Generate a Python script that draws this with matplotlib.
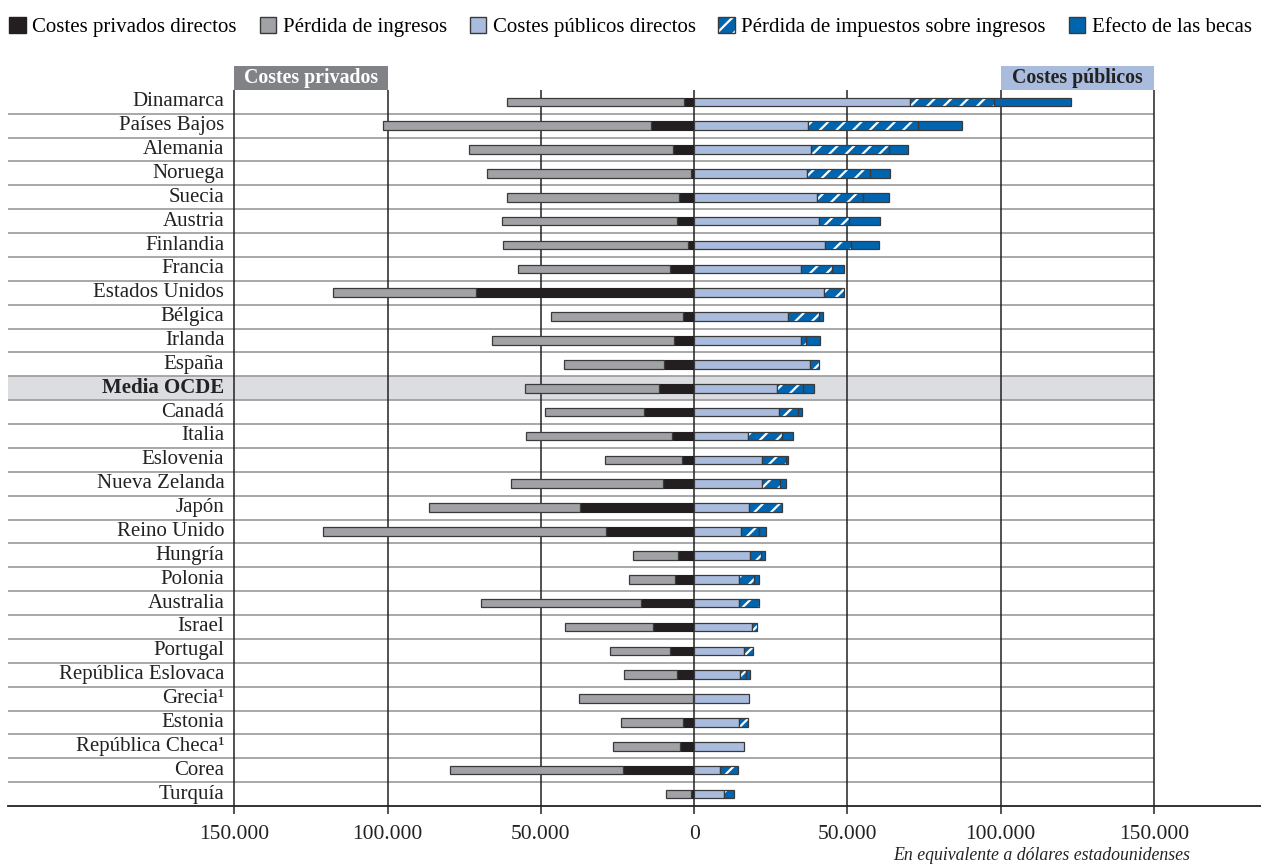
import numpy as np
import matplotlib.pyplot as plt
from matplotlib.patches import Patch, Rectangle
from matplotlib.legend_handler import HandlerTuple
from matplotlib.ticker import FuncFormatter

plt.rcParams['font.family'] = ['Liberation Serif', 'DejaVu Serif']
plt.rcParams['hatch.linewidth'] = 1.6

countries = ['Dinamarca', 'Países Bajos', 'Alemania', 'Noruega', 'Suecia', 'Austria',
             'Finlandia', 'Francia', 'Estados Unidos', 'Bélgica', 'Irlanda', 'España',
             'Media OCDE', 'Canadá', 'Italia', 'Eslovenia', 'Nueva Zelanda', 'Japón',
             'Reino Unido', 'Hungría', 'Polonia', 'Australia', 'Israel', 'Portugal',
             'República Eslovaca', 'Grecia¹', 'Estonia', 'República Checa¹', 'Corea', 'Turquía']

# private side (plotted to the left)
direct_private = [3300, 14000, 7000, 1100, 4800, 5600, 1900, 7700, 71000, 3500, 6600, 9900,
                  11300, 16200, 7200, 3800, 10300, 37300, 28600, 5100, 6200, 17400, 13300, 8000,
                  5500, 500, 3600, 4600, 23300, 1100]
lost_earnings = [57900, 87400, 66300, 66400, 56400, 57200, 60400, 49800, 46700, 43300, 59300, 32600,
                 43800, 32300, 47800, 25400, 49600, 49100, 92400, 14900, 15000, 52100, 28900, 19300,
                 17400, 37000, 20300, 21900, 56200, 8100]

# public side (plotted to the right)
direct_public = [70300, 37300, 38200, 36800, 40000, 40600, 42600, 35000, 42500, 30800, 34900, 37700,
                 26900, 27600, 17500, 22000, 22000, 18000, 15200, 18200, 14500, 14500, 18800, 16200,
                 15100, 17900, 14500, 16400, 8300, 9700]
lost_taxes = [27500, 35700, 25300, 20700, 15200, 10100, 8500, 9900, 6400, 10000, 1600, 3200,
              8500, 6200, 11300, 8000, 6000, 10800, 5900, 3500, 5000, 6700, 1700, 3000,
              1700, 0, 3000, 0, 6000, 3400]
grants = [25300, 14500, 6200, 6300, 8300, 10100, 9100, 4000, 0, 1200, 4500, 0,
          3600, 1300, 3400, 800, 1900, 0, 2500, 1400, 1800, 0, 0, 0,
          1400, 0, 0, 0, 0, 0]

ticks = [-150000, -100000, -50000, 0, 50000, 100000, 150000]

c_black = '#231f20'
c_gray = '#a1a2a6'
c_lblue = '#aabcde'
c_blue = '#0065b0'
c_edge = '#3a3a3a'

fig = plt.figure(figsize=(12.61, 8.66), dpi=100)
ax = fig.add_axes([8 / 1261, 1 - 806 / 866, 1 - 8 / 1261, (806 - 66) / 866])

px = 3.06 / 1000  # pixels per dollar
xmin = (10 - 695) / px
xmax = (1261 - 695) / px
ax.set_xlim(xmin, xmax)
ax.set_ylim(29.5, -1.5)

y = np.arange(len(countries))
dp = np.array(direct_private)
le = np.array(lost_earnings)
dpub = np.array(direct_public)
lt = np.array(lost_taxes)
gr = np.array(grants)
h = 0.36

# highlight for OECD average
i_avg = countries.index('Media OCDE')
ax.add_patch(Rectangle((xmin, i_avg - 0.5), 150000 - xmin, 1, facecolor='#dcdde0',
                       edgecolor='none', zorder=0))

# row separators
ax.hlines(np.arange(0.5, 29.5, 1), xmin, 150000, color='#9a9a9a', lw=1.2, zorder=1)
# vertical grid
ax.vlines(ticks, -0.5, 29.5, color='#222222', lw=1.1, zorder=1)

# left bars
ax.barh(y, -dp, height=h, color=c_black, edgecolor=c_black, lw=0.8, zorder=3)
ax.barh(y, -le, left=-dp, height=h, color=c_gray, edgecolor=c_edge, lw=0.9, zorder=3)

# right bars
ax.barh(y, dpub, height=h, color=c_lblue, edgecolor=c_edge, lw=0.9, zorder=3)
hat = lt > 0
ax.barh(y[hat], lt[hat], left=dpub[hat], height=h, color=c_blue, edgecolor='white',
        lw=0, hatch='//', zorder=3)
ax.barh(y[hat], lt[hat], left=dpub[hat], height=h, fill=False, edgecolor=c_edge, lw=0.9, zorder=4)
g = gr > 0
ax.barh(y[g], gr[g], left=(dpub + lt)[g], height=h, color=c_blue, edgecolor=c_edge, lw=0.9, zorder=3)

# country labels
for i, name in enumerate(countries):
    ax.text((226 - 695) / px, i, name, ha='right', va='center', fontsize=15,
            fontweight='bold' if name == 'Media OCDE' else 'normal', color='#222222')

# header boxes
ax.add_patch(Rectangle((-150000, -1.5), 50000, 1, facecolor='#818285', edgecolor='none', clip_on=False))
ax.text(-125000, -1.0, 'Costes privados', ha='center', va='center', fontsize=14.3,
        fontweight='bold', color='white')
ax.add_patch(Rectangle((100000, -1.5), 50000, 1, facecolor='#aabcde', edgecolor='none', clip_on=False))
ax.text(125000, -1.0, 'Costes públicos', ha='center', va='center', fontsize=14.3,
        fontweight='bold', color='#222222')

# axes styling
for s in ['top', 'left', 'right']:
    ax.spines[s].set_visible(False)
ax.spines['bottom'].set_linewidth(1.3)
ax.spines['bottom'].set_color('#222222')
ax.set_yticks([])
ax.set_xticks(ticks)
ax.xaxis.set_major_formatter(FuncFormatter(lambda v, p: f'{abs(int(v)):,}'.replace(',', '.')))
ax.tick_params(axis='x', length=6, width=1.1, color='#222222', labelsize=15.5, pad=8,
               labelcolor='#222222')

fig.text(1190 / 1261, 1 - 856 / 866, 'En equivalente a dólares estadounidenses', ha='right',
         va='center', fontsize=12.8, style='italic', color='#222222')

# legend
h1 = Patch(facecolor=c_black, edgecolor=c_black)
h2 = Patch(facecolor=c_gray, edgecolor=c_edge)
h3 = Patch(facecolor=c_lblue, edgecolor=c_edge)
h4a = Patch(facecolor=c_blue, edgecolor='white', lw=0, hatch='//')
h4b = Patch(fill=False, edgecolor=c_edge)
h5 = Patch(facecolor=c_blue, edgecolor=c_edge)
fig.legend([h1, h2, h3, (h4a, h4b), h5],
           ['Costes privados directos', 'Pérdida de ingresos', 'Costes públicos directos',
            'Pérdida de impuestos sobre ingresos', 'Efecto de las becas'],
           handler_map={tuple: HandlerTuple(ndivide=1, pad=0)},
           loc='center', bbox_to_anchor=(0.5, 1 - 27 / 866), ncol=5, frameon=False,
           fontsize=15, handlelength=0.8, handleheight=0.8, handletextpad=0.3,
           columnspacing=1.1, borderaxespad=0)

fig.savefig('out.png', dpi=100)
